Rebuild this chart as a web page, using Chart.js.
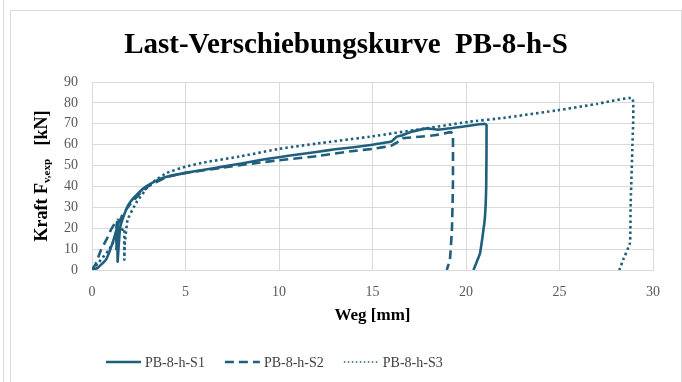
<!DOCTYPE html>
<html>
<head>
<meta charset="utf-8">
<script src="https://cdn.jsdelivr.net/npm/chart.js@4.4.1/dist/chart.umd.min.js"></script>
<style>
html,body{margin:0;padding:0;background:#fff;width:682px;height:382px;overflow:hidden}
#edge{position:absolute;left:3px;top:0;width:0;height:382px;border-left:1px solid #d9d9d9}
#box{position:absolute;left:10px;top:10px;width:670px;height:380px;border:1px solid #d9d9d9;background:#fff}
#wrap{position:absolute;left:0;top:0;width:670px;height:371px}
</style>
</head>
<body>
<div id="edge"></div>
<div id="box"><div id="wrap"><canvas id="myChart"></canvas></div></div>
<script>
// Weg [mm] / Kraft [kN]
const s1X = [0, 0.3, 0.75, 1.1, 1.46, 1.38, 1.37, 1.4, 1.5, 1.7, 2.0, 2.5, 2.9, 3.5, 3.95, 5, 6, 7, 8, 9, 10, 11, 12, 13, 14, 15, 16, 16.3, 16.6, 17, 17.9, 18.5, 19.8, 21.0, 21.1, 21.08, 21.0, 20.75, 20.4];
const s1Y = [0, 1, 5, 13, 24, 22, 4, 8, 20, 26, 32, 37, 40, 43, 44.5, 46.5, 48, 49.5, 51, 52.7, 54, 55.3, 56.5, 57.8, 58.8, 60, 61.5, 63.8, 64.5, 66, 67.8, 67.2, 68.6, 70, 69.4, 40, 24, 8, 0];

const s2X = [0, 0.2, 0.48, 0.8, 1.0, 1.2, 1.35, 1.3, 1.3, 1.35, 1.6, 2.0, 2.5, 3.0, 4, 5, 7, 9, 10, 12, 14, 15, 16, 16.5, 16.6, 17.5, 18.4, 19.2, 19.3, 19.3, 19.25, 19.14, 18.97];
const s2Y = [0, 3, 9.6, 15, 19, 22, 24, 20, 10, 18, 26, 31, 36, 40, 44.5, 46.5, 49, 51.5, 52.5, 54.5, 57, 58, 59.5, 62, 63, 63.8, 64.6, 66, 65, 40, 20, 5, 0];

const s3X = [0, 0.3, 0.9, 1.45, 1.7, 1.73, 1.73, 1.75, 1.9, 2.35, 3.0, 3.4, 4, 5, 6, 8, 10, 12, 15, 18, 20.2, 22, 25, 27, 28.9, 28.9, 28.8, 28.77, 28.4, 28.2];
const s3Y = [0, 3, 9.6, 18, 20, 19, 5, 12, 24, 32, 40, 43, 46.5, 49.5, 51.5, 54.5, 58, 60.5, 64, 68, 71, 72.8, 76.6, 79.5, 82.2, 60, 30, 13, 4.8, 0];

const seriesNames = ['PB-8-h-S1', 'PB-8-h-S2', 'PB-8-h-S3'];
const xTicks = [0, 5, 10, 15, 20, 25, 30];
const yTicks = [0, 10, 20, 30, 40, 50, 60, 70, 80, 90];

const lineColor = '#1f5f7e';
const serif = '"Liberation Serif", "Times New Roman", serif';

function pts(xs, ys) {
    return xs.map((x, i) => ({x: x, y: ys[i]}));
}

// title, axis titles and legend drawn by hand
const decor = {
    id: 'decor',
    afterDraw(chart) {
        const ctx = chart.ctx;
        const area = chart.chartArea;
        ctx.save();
        ctx.fillStyle = '#000';
        ctx.textAlign = 'center';
        ctx.textBaseline = 'middle';
        ctx.font = 'bold 29px ' + serif;
        ctx.fillText('Last-Verschiebungskurve  PB-8-h-S', 335, 35);

        ctx.font = 'bold 17px ' + serif;
        ctx.fillText('Weg [mm]', (area.left + area.right) / 2, 305);

        // y title with subscript
        ctx.save();
        ctx.translate(31, 165);
        ctx.rotate(-Math.PI / 2);
        ctx.textAlign = 'left';
        const big = 'bold 18px ' + serif, small = 'bold 11px ' + serif;
        ctx.font = big;
        const w1 = ctx.measureText('Kraft F').width;
        const w3 = ctx.measureText('   [kN]').width;
        ctx.font = small;
        const w2 = ctx.measureText('v,exp').width;
        let x0 = -(w1 + w2 + w3) / 2;
        ctx.font = big;
        ctx.fillText('Kraft F', x0, 0);
        ctx.font = small;
        ctx.fillText('v,exp', x0 + w1, 5);
        ctx.font = big;
        ctx.fillText('   [kN]', x0 + w1 + w2, 0);
        ctx.restore();

        // legend
        let lx = 95;
        const ly = 351;
        ctx.font = '14px ' + serif;
        ctx.textAlign = 'left';
        chart.data.datasets.forEach((ds, i) => {
            ctx.beginPath();
            ctx.strokeStyle = lineColor;
            if (i === 2) {
                ctx.lineWidth = 1.5;
                ctx.setLineDash([1.5, 2.5]);
            } else {
                ctx.lineWidth = 2.5;
                ctx.setLineDash(ds.borderDash || []);
            }
            ctx.moveTo(lx, ly);
            ctx.lineTo(lx + 35, ly);
            ctx.stroke();
            ctx.setLineDash([]);
            ctx.fillStyle = '#404040';
            ctx.fillText(ds.label, lx + 39, ly + 1);
            lx += 39 + ctx.measureText(ds.label).width + 20;
        });
        ctx.restore();
    }
};

const common = {showLine: true, pointRadius: 0, borderColor: lineColor, backgroundColor: lineColor, borderWidth: 2.6, tension: 0.1, fill: false};

new Chart(document.getElementById('myChart'), {
    type: 'scatter',
    data: {
        datasets: [
            Object.assign({label: seriesNames[0], data: pts(s1X, s1Y), borderDash: []}, common),
            Object.assign({label: seriesNames[1], data: pts(s2X, s2Y), borderDash: [9, 5]}, common),
            Object.assign({label: seriesNames[2], data: pts(s3X, s3Y), borderDash: [2.5, 3]}, common)
        ]
    },
    options: {
        responsive: true,
        maintainAspectRatio: false,
        animation: false,
        layout: {padding: {left: 0, right: 28, top: 71, bottom: 0}},
        plugins: {legend: {display: false}, title: {display: false}, tooltip: {enabled: false}},
        scales: {
            x: {
                type: 'linear', min: 0, max: 30,
                afterBuildTicks: s => { s.ticks = xTicks.map(v => ({value: v})); },
                afterFit: s => { s.height = 112; },
                grid: {color: '#d9d9d9', lineWidth: 1, drawTicks: false},
                border: {color: '#d9d9d9'},
                ticks: {padding: 14, color: '#595959', font: {family: serif, size: 14}, maxRotation: 0}
            },
            y: {
                type: 'linear', min: 0, max: 90,
                afterBuildTicks: s => { s.ticks = yTicks.map(v => ({value: v})); },
                afterFit: s => { s.width = 81; },
                grid: {color: '#d9d9d9', lineWidth: 1, drawTicks: false},
                border: {color: '#d9d9d9'},
                ticks: {padding: 14, color: '#595959', font: {family: serif, size: 14}}
            }
        }
    },
    plugins: [decor]
});
</script>
</body>
</html>
